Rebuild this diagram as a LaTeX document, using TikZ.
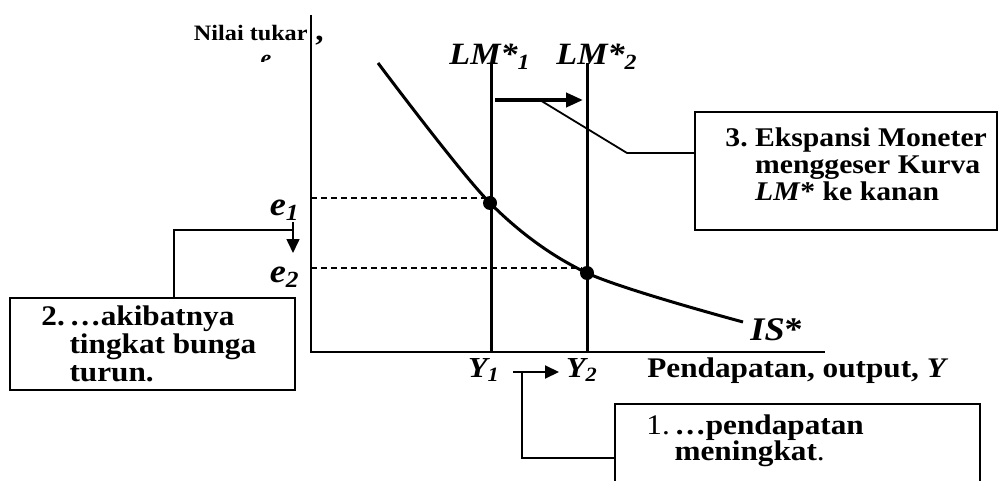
\documentclass[tikz,border=0pt]{standalone}
\usepackage{fontspec}
\setmainfont[FakeStretch=1.1]{Liberation Serif}
\usetikzlibrary{positioning,arrows.meta}

\begin{document}
\begin{tikzpicture}[
    x=0.5pt, y=-0.5pt,
    >={Triangle[length=7pt,width=6.5pt]},
    sumbu/.style={line width=1pt},
    kurva/.style={line width=1.5pt},
    putus/.style={line width=0.8pt, dash pattern=on 3pt off 2pt},
    titik/.style={circle, fill=black, inner sep=0pt, minimum size=7pt},
    kotak/.style={rectangle, draw, line width=1pt, inner sep=0pt},
    isi/.style={anchor=north west, inner sep=0pt, align=left, font=\fontsize{13.5}{13.5}\selectfont\bfseries},
    garis/.style={line width=0.9pt},
    lbl/.style={inner sep=0pt, font=\fontsize{15.5}{15.5}\selectfont\bfseries\itshape}
]
\useasboundingbox (0,0) rectangle (1000,481);
\fill[white] (0,0) rectangle (1000,481);
\clip (0,0) rectangle (1000,481);

% Axes
\coordinate (O) at (311,352);
\coordinate (ytop) at (311,15);
\coordinate (xend) at (825,352);
\draw[sumbu] (ytop) -- (O) -- (xend);

\node[anchor=base east, inner sep=0pt, font=\fontsize{11}{11}\selectfont\bfseries] (nilai) at (308,41) {Nilai tukar};
\node[anchor=base west, inner sep=0pt, font=\fontsize{15}{15}\selectfont\bfseries] (koma) at (315,41) {,};
\begin{scope}
  \clip (250,48) rectangle (285,62);
  \node[anchor=base, inner sep=0pt, font=\fontsize{11}{11}\selectfont\bfseries\itshape] (e) at (266,66) {e};
\end{scope}
\node[anchor=base west, inner sep=0pt, font=\fontsize{14.2}{14.2}\selectfont\bfseries] (xlabel) at (647,377) {Pendapatan, output, \textit{Y}};

% LM* curves
\coordinate (lm1) at (491,63);
\coordinate (lm2) at (587,63);
\draw[kurva] (lm1) -- (lm1 |- O);
\draw[kurva] (lm2) -- (lm2 |- O);
\node[lbl, anchor=base] (LM1) at (490,65) {LM*\textsubscript{1}};
\node[lbl, anchor=base] (LM2) at (597,65) {LM*\textsubscript{2}};

% IS* curve
\draw[kurva] plot[smooth] coordinates {(378,63) (490,203) (587,273) (743,322)};
\node[anchor=base west, inner sep=0pt, font=\fontsize{16.5}{16.5}\selectfont\bfseries] (IS) at (750,340) {\textit{IS}*};

% Equilibria
\node[titik] (E1) at (490,203) {};
\node[titik] (E2) at (587,273) {};
\draw[putus] (O |- E1.north west) -- (E1.north west);
\draw[putus] (O |- E2.north west) -- (E2.north west);

\node[lbl, anchor=base east, font=\fontsize{16.5}{16.5}\selectfont\bfseries\itshape] (e1) at (300,215) {e\textsubscript{1}};
\node[lbl, anchor=base east, font=\fontsize{16.5}{16.5}\selectfont\bfseries\itshape] (e2) at (300,282) {e\textsubscript{2}};
\node[lbl, anchor=base, font=\fontsize{14.5}{14.5}\selectfont\bfseries\itshape] (Y1) at (484,377) {Y\textsubscript{1}};
\node[lbl, anchor=base, font=\fontsize{14.5}{14.5}\selectfont\bfseries\itshape] (Y2) at (582,377) {Y\textsubscript{2}};

% Shift arrows
\coordinate (g1) at (495,100);
\coordinate (g2) at (583,100);
\draw[->, line width=2pt, >={Triangle[length=8.5pt,width=7pt]}] (g1) -- node[pos=0.51, coordinate] (c3a) {} (g2);
\coordinate (ea) at (293,222);
\coordinate (eb) at (293,253);
\draw[->, line width=0.8pt] (ea) -- node[pos=0.26, coordinate] (c2) {} (eb);
\coordinate (a1) at (513,372);
\coordinate (a2) at (559,372);
\draw[->, line width=1pt] (a1) -- (a2);

% Boxes
\node[kotak, minimum width=151pt, minimum height=59pt] (kotak3) at (846,171) {};
\node[isi] (teks3) at (725,127) {3.\ Ekspansi Moneter\\\hphantom{3.\ }menggeser Kurva\\\hphantom{3.\ }\textit{LM}* ke kanan};
\node[kotak, minimum width=142.5pt, minimum height=46pt] (kotak2) at (152.5,344) {};
\node[isi, font=\fontsize{14.2}{14}\selectfont\bfseries] (teks2) at (41,305) {2.\,…akibatnya\\\hphantom{2.\,}tingkat bunga\\\hphantom{2.\,}turun.};
\node[kotak, minimum width=182.5pt, minimum height=54pt] (kotak1) at (797.5,458) {};
\node[isi, font=\fontsize{14.2}{13.2}\selectfont\bfseries] (teks1) at (646,414) {{\mdseries 1.}\,…pendapatan\\\hphantom{1.\,}meningkat{\mdseries .}};

% Callouts
\coordinate (c3b) at (627,153);
\draw[garis] (c3a) -- (c3b) -- (c3b -| kotak3.west);
\draw[garis] ([xshift=10.75pt]kotak2.north) |- (c2);
\draw[garis] ([xshift=4.5pt]a1) |- (kotak1.west);

\end{tikzpicture}
\end{document}
